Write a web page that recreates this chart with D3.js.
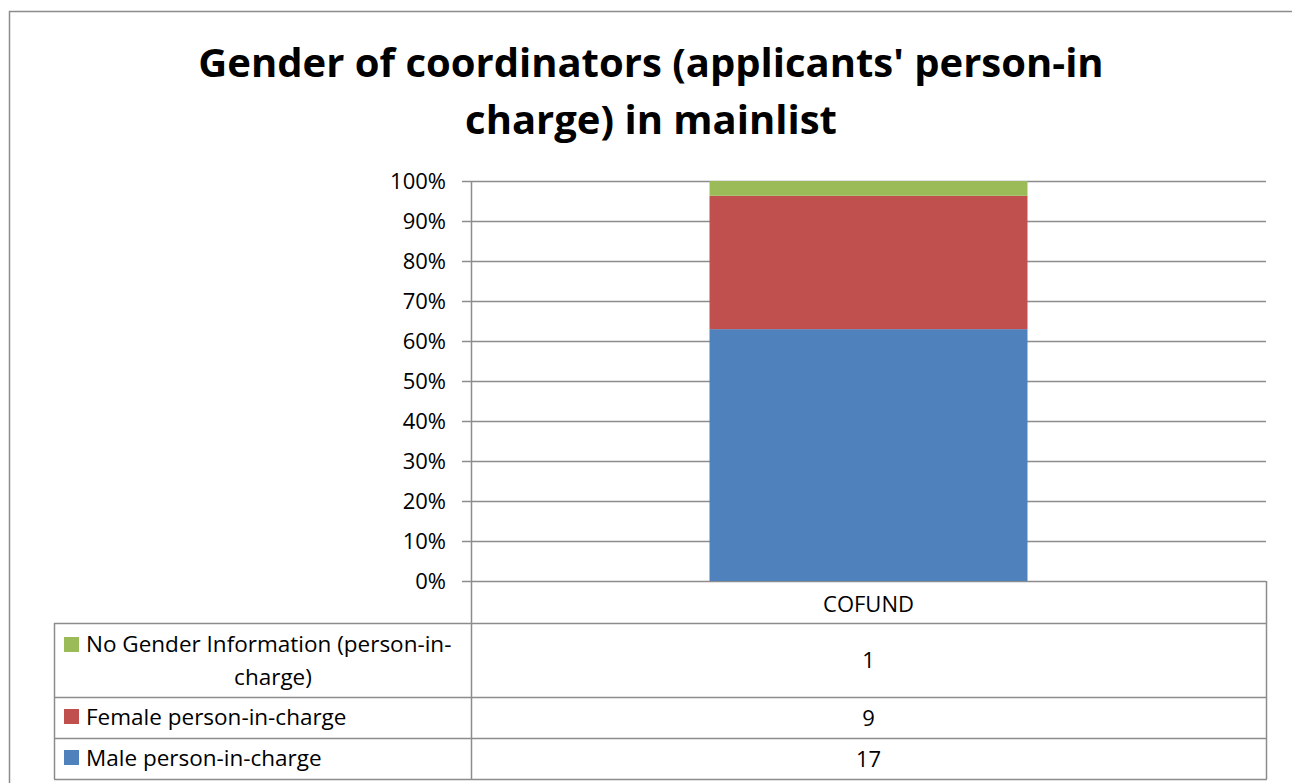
<!DOCTYPE html>
<html>
<head>
<meta charset="utf-8">
<script src="https://cdnjs.cloudflare.com/ajax/libs/d3/7.8.5/d3.min.js"></script>
<style>
  body { margin: 0; background: #fff; }
  text { font-family: "Open Sans", sans-serif; fill: #000; }
</style>
</head>
<body>
<div id="chart"></div>
<script>
var categories = ["COFUND"];
var seriesNames = ["Male person-in-charge", "Female person-in-charge", "No Gender Information (person-in-charge)"];
var maleValues = [17];
var femaleValues = [9];
var noInfoValues = [1];
var tickLabels = ["0%", "10%", "20%", "30%", "40%", "50%", "60%", "70%", "80%", "90%", "100%"];

var colors = ["#4f81bd", "#c0504d", "#9bbb59"];

var width = 1292,
	height = 783;

var plotLeft = 471, plotRight = 1266, plotTop = 181, plotBottom = 581;

// table row edges (top row first)
var rowTops = [623, 697, 738, 779];

var rows = categories.map(function(c, i){
	return { cat: c, male: maleValues[i], female: femaleValues[i], none: noInfoValues[i] };
});
var keys = ["male", "female", "none"];

var stacked = d3.stack().keys(keys).offset(d3.stackOffsetExpand)(rows);

var yScale = d3.scaleLinear()
	.domain([0, 1])
	.range([plotBottom, plotTop]);

var xScale = d3.scaleBand()
	.domain(categories)
	.range([plotLeft, plotRight])
	.paddingInner(0.4286)
	.paddingOuter(0.4286);

var svg = d3.select("#chart").append("svg")
	.attr("width", width)
	.attr("height", height);

//outer chart border
svg.append("rect")
	.attr("x", 9.5).attr("y", 11.5)
	.attr("width", 1300).attr("height", 800)
	.style("fill", "none").style("stroke", "#8c8c8c").style("stroke-width", 1.5);

//title
var title = svg.append("text")
	.attr("text-anchor", "middle")
	.style("font-size", "40px")
	.style("font-weight", "bold");
title.append("tspan").attr("x", 651).attr("y", 77).text("Gender of coordinators (applicants' person-in");
title.append("tspan").attr("x", 651).attr("y", 134).text("charge) in mainlist");

//gridlines
svg.append("g")
	.selectAll("line").data(d3.range(0, 1.01, 0.1))
	.enter().append("line")
		.attr("x1", plotLeft - 9).attr("x2", plotRight)
		.attr("y1", function(d){ return Math.round(yScale(d)) + 0.5; })
		.attr("y2", function(d){ return Math.round(yScale(d)) + 0.5; })
		.style("stroke", "#8c8c8c").style("stroke-width", 1.3);

//y axis labels
var yAxis = d3.axisLeft(yScale)
	.tickValues(d3.range(0, 1.01, 0.1))
	.tickFormat(function(d, i){ return tickLabels[i]; })
	.tickSize(0)
	.tickPadding(16);

svg.append("g")
	.attr("transform", "translate(" + (plotLeft - 9) + ",0)")
	.call(yAxis)
	.call(function(g){ g.select(".domain").remove(); })
	.selectAll("text")
		.style("font-family", "Open Sans, sans-serif")
		.style("font-size", "22px");

//bars
svg.append("g")
	.selectAll("g").data(stacked)
	.enter().append("g")
		.style("fill", function(d, i){ return colors[i]; })
	.selectAll("rect").data(function(d){ return d; })
	.enter().append("rect")
		.attr("x", function(d){ return xScale(d.data.cat); })
		.attr("width", xScale.bandwidth())
		.attr("y", function(d){ return yScale(d[1]); })
		.attr("height", function(d){ return yScale(d[0]) - yScale(d[1]); });

//vertical axis line + table grid
var gridStyle = function(sel){
	sel.style("stroke", "#8c8c8c").style("stroke-width", 1.5).style("fill", "none");
};
svg.append("line").attr("x1", plotLeft + 0.5).attr("x2", plotLeft + 0.5).attr("y1", plotTop).attr("y2", rowTops[3]).call(gridStyle);
svg.append("line").attr("x1", plotRight + 0.5).attr("x2", plotRight + 0.5).attr("y1", plotBottom).attr("y2", rowTops[3]).call(gridStyle);
svg.append("line").attr("x1", 54.5).attr("x2", 54.5).attr("y1", rowTops[0]).attr("y2", rowTops[3]).call(gridStyle);
rowTops.forEach(function(y){
	svg.append("line").attr("x1", 54).attr("x2", plotRight + 1).attr("y1", y + 0.5).attr("y2", y + 0.5).call(gridStyle);
});

//category label
svg.append("g").selectAll("text").data(categories)
	.enter().append("text")
		.attr("x", function(d){ return xScale(d) + xScale.bandwidth() / 2; })
		.attr("y", 612)
		.attr("text-anchor", "middle")
		.style("font-size", "22px")
		.text(function(d){ return d; });

//table rows: top to bottom = no info, female, male
var tableRows = [
	{ lines: ["No Gender Information (person-in-", "charge)"], color: colors[2], value: noInfoValues[0] },
	{ lines: [seriesNames[1]], color: colors[1], value: femaleValues[0] },
	{ lines: [seriesNames[0]], color: colors[0], value: maleValues[0] }
];

var tr = svg.append("g").selectAll("g").data(tableRows)
	.enter().append("g");

tr.append("rect")
	.attr("x", 64)
	.attr("y", function(d, i){ return i == 0 ? rowTops[0] + 14 : rowTops[i] + 12; })
	.attr("width", 15).attr("height", 15)
	.style("fill", function(d){ return d.color; });

tr.each(function(d, i){
	var g = d3.select(this);
	if (d.lines.length == 2) {
		g.append("text").attr("x", 86).attr("y", rowTops[0] + 29)
			.style("font-size", "22.5px").text(d.lines[0]);
		g.append("text").attr("x", 273).attr("y", rowTops[0] + 62)
			.attr("text-anchor", "middle")
			.style("font-size", "22.5px").text(d.lines[1]);
	} else {
		g.append("text").attr("x", 86).attr("y", rowTops[i] + 28)
			.style("font-size", "22.5px").text(d.lines[0]);
	}
	g.append("text")
		.attr("x", xScale(categories[0]) + xScale.bandwidth() / 2)
		.attr("y", (rowTops[i] + rowTops[i + 1]) / 2 + 8)
		.attr("text-anchor", "middle")
		.style("font-size", "22px")
		.text(d.value);
});
</script>
</body>
</html>
